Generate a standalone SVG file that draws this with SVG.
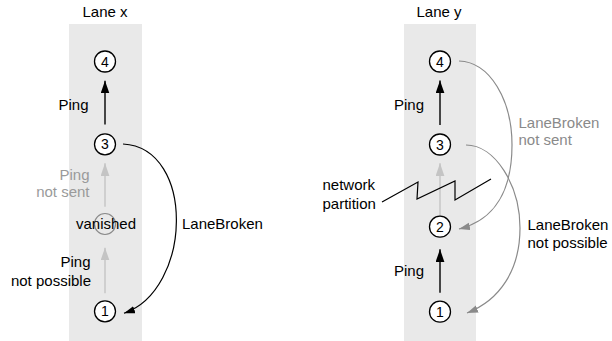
<svg xmlns="http://www.w3.org/2000/svg" width="612" height="341" viewBox="0 0 612 341">
<style>
text{font-family:"Liberation Sans",Arial,sans-serif;font-size:15px;fill:#000}
.num{font-size:14px;text-anchor:middle}
.end{text-anchor:end}
.mid{text-anchor:middle}
.gt{fill:#9a9a9a}
.gt2{fill:#8a8a8a}
.lane{fill:#e9e9e9}
.node{fill:#fff;stroke:#000;stroke-width:1.3}
.ghost{fill:none;stroke:#8a8a8a;stroke-width:1.2}
.blk{stroke:#000;stroke-width:1.4;fill:none}
.lgr{stroke:#c4c4c4;stroke-width:1.4;fill:none}
.cblk{stroke:#000;stroke-width:1.2;fill:none}
.cgr{stroke:#8a8a8a;stroke-width:1.2;fill:none}
</style>
<defs>
<marker id="ab" markerUnits="userSpaceOnUse" markerWidth="13" markerHeight="9" refX="12.6" refY="4.4" orient="auto"><path d="M0,0 L12.6,4.4 L0,8.8 z" fill="#000"/></marker>
<marker id="ag" markerUnits="userSpaceOnUse" markerWidth="13" markerHeight="9" refX="12.6" refY="4.4" orient="auto"><path d="M0,0 L12.6,4.4 L0,8.8 z" fill="#c4c4c4"/></marker>
<marker id="cb" markerUnits="userSpaceOnUse" markerWidth="12" markerHeight="8" refX="11" refY="3.8" orient="auto"><path d="M0,0 L11,3.8 L0,7.6 z" fill="#000"/></marker>
<marker id="cg" markerUnits="userSpaceOnUse" markerWidth="12" markerHeight="8" refX="11" refY="3.8" orient="auto"><path d="M0,0 L11,3.8 L0,7.6 z" fill="#8a8a8a"/></marker>
</defs>
<g id="lanes">
<rect class="lane" x="69" y="24" width="73" height="317"/>
<rect class="lane" x="404" y="24" width="72" height="317"/>
<text class="mid" x="105" y="16.5">Lane x</text>
<text class="mid" x="439" y="16.5">Lane y</text>
</g>
<g id="connectors">
<line class="blk" x1="105" y1="124.5" x2="105" y2="80.7" marker-end="url(#ab)"/>
<line class="lgr" x1="105" y1="206.7" x2="105" y2="163.3" marker-end="url(#ag)"/>
<line class="lgr" x1="105" y1="293.3" x2="105" y2="247.7" marker-end="url(#ag)"/>
<path class="cblk" d="M123,144 C196,148 192,290 124,313.3" marker-end="url(#cb)"/>
<line class="blk" x1="440" y1="125" x2="440" y2="80.5" marker-end="url(#ab)"/>
<line class="lgr" x1="440" y1="216" x2="440" y2="163.3" marker-end="url(#ag)"/>
<line class="blk" x1="440" y1="292.7" x2="440" y2="249.3" marker-end="url(#ab)"/>
<path class="cgr" d="M459,61 C490,62 512,100 512,145 C512,190 495,220 459,229" marker-end="url(#cg)"/>
<path class="cgr" d="M466,145 C495,145 520,185 520,228 C520,270 500,300 467,313" marker-end="url(#cg)"/>
<polyline points="382,202 418,182 417,199 455,181 455,200 491,179" fill="none" stroke="#000" stroke-width="1.2"/>
</g>
<g id="x4"><circle class="node" cx="105" cy="61.5" r="10.5"/><text class="num" x="105" y="66.5">4</text></g>
<g id="x3"><circle class="node" cx="105" cy="144.3" r="10.5"/><text class="num" x="105" y="149.3">3</text></g>
<g id="xv"><circle class="ghost" cx="105" cy="224" r="10.5"/><text class="mid" x="106" y="229">vanished</text></g>
<g id="x1"><circle class="node" cx="105" cy="311.3" r="10.5"/><text class="num" x="105" y="316.3">1</text></g>
<g id="y4"><circle class="node" cx="440" cy="61.5" r="10.5"/><text class="num" x="440" y="66.5">4</text></g>
<g id="y3"><circle class="node" cx="440" cy="144.5" r="10.5"/><text class="num" x="440" y="149.5">3</text></g>
<g id="y2"><circle class="node" cx="440" cy="226.7" r="10.5"/><text class="num" x="440" y="231.7">2</text></g>
<g id="y1"><circle class="node" cx="440" cy="311.7" r="10.5"/><text class="num" x="440" y="316.7">1</text></g>
<g id="labels">
<text class="end" x="88.5" y="110">Ping</text>
<text class="end gt" x="89.5" y="180">Ping</text>
<text class="end gt" x="89.5" y="197">not sent</text>
<text class="end" x="90.5" y="267">Ping</text>
<text class="end" x="91" y="285.5">not possible</text>
<text x="182" y="228.5">LaneBroken</text>
<text class="end" x="424" y="110">Ping</text>
<text class="end" x="424" y="275.5">Ping</text>
<text x="322.5" y="190">network</text>
<text x="322.5" y="208.5">partition</text>
<text class="gt2" x="518.5" y="127.5">LaneBroken</text>
<text class="gt2" x="518.5" y="145">not sent</text>
<text x="527.5" y="229.5">LaneBroken</text>
<text x="527.5" y="248">not possible</text>
</g>
</svg>
